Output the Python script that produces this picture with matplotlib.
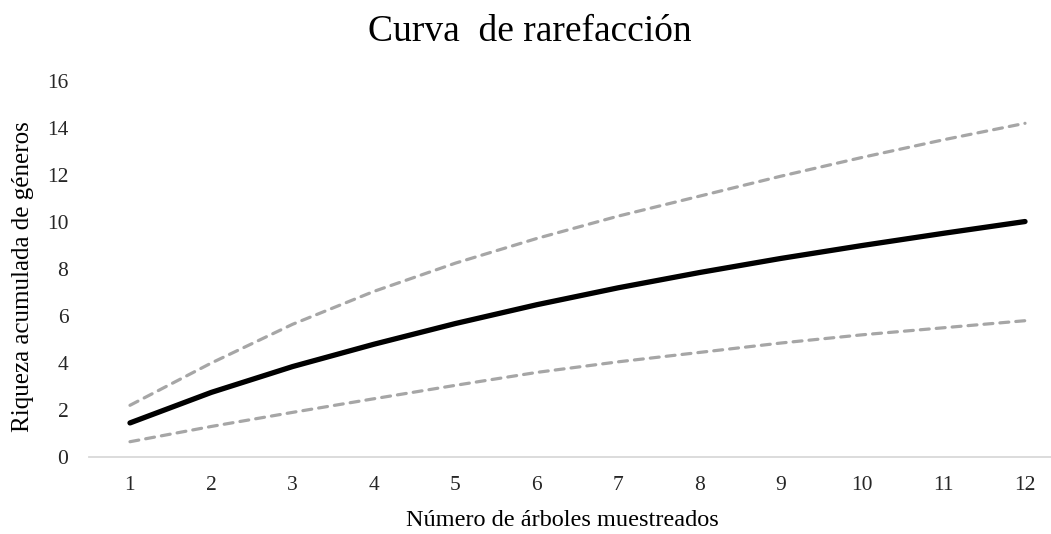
import matplotlib.pyplot as plt

plt.rcParams['font.family'] = ['Liberation Serif', 'DejaVu Serif']

arboles = [1, 2, 3, 4, 5, 6, 7, 8, 9, 10, 11, 12]
riqueza = [1.45, 2.75, 3.85, 4.8, 5.68, 6.48, 7.2, 7.85, 8.45, 9.0, 9.52, 10.02]
limite_sup = [2.2, 4.0, 5.65, 7.05, 8.25, 9.3, 10.25, 11.1, 11.95, 12.75, 13.5, 14.2]
limite_inf = [0.65, 1.3, 1.9, 2.48, 3.05, 3.6, 4.05, 4.45, 4.85, 5.2, 5.5, 5.8]

fig = plt.figure(figsize=(10.51, 5.34), dpi=100)
ax = fig.add_axes([89.3 / 1051, 77 / 534, 976.4 / 1051, 376 / 534])

gris = '#a6a6a6'
ax.plot(arboles, limite_sup, color=gris, lw=2.3, dashes=(2.8, 2.2),
        dash_capstyle='round', solid_capstyle='round')
ax.plot(arboles, limite_inf, color=gris, lw=2.3, dashes=(2.8, 2.2),
        dash_capstyle='round', solid_capstyle='round')
ax.plot(arboles, riqueza, color='black', lw=3.8, solid_capstyle='round')

ax.set_xlim(0.5, 12.5)
ax.set_ylim(0, 16)
ax.set_xticks(arboles)
ax.set_yticks(range(0, 17, 2))

for lado in ['top', 'right', 'left']:
    ax.spines[lado].set_visible(False)
ax.spines['bottom'].set_color('#d9d9d9')
ax.spines['bottom'].set_linewidth(1.3)
ax.tick_params(length=0, labelsize=15.5, labelcolor='#262626')
ax.tick_params(axis='x', pad=14)
ax.tick_params(axis='y', pad=15)

fig.text(530 / 1051, 1 - 32 / 534, 'Curva  de rarefacción', ha='center', va='center', fontsize=27)
fig.text(562 / 1051, 1 - 520 / 534, 'Número de árboles muestreados', ha='center', va='center', fontsize=17.5)
fig.text(23 / 1051, 1 - 277 / 534, 'Riqueza acumulada de géneros', ha='center', va='center',
         rotation=90, fontsize=18)

fig.savefig('out.png', dpi=100)
